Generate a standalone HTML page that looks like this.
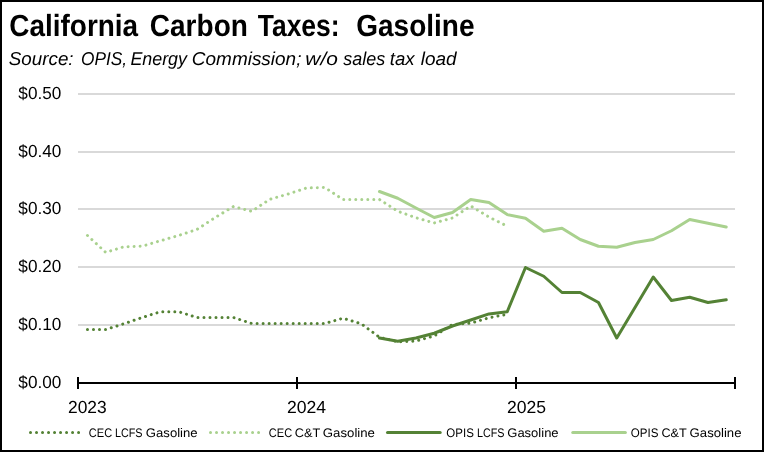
<!DOCTYPE html>
<html lang="en">
<head>
<meta charset="utf-8">
<title>California Carbon Taxes: Gasoline</title>
<style>
html,body{margin:0;padding:0;background:#fff;}
body{width:764px;height:452px;overflow:hidden;}
svg{display:block;}
text{font-family:"Liberation Sans",sans-serif;fill:#000;text-rendering:geometricPrecision;}
.title{font-weight:bold;font-size:30.6px;}
.sub{font-style:italic;font-size:18.6px;}
.ax{font-size:17.4px;}
.lg{font-size:12.4px;}
</style>
</head>
<body>
<svg width="764" height="452" viewBox="0 0 764 452">
<rect x="0" y="0" width="764" height="452" fill="#fff"/>
<!-- border -->
<rect x="0" y="0" width="764" height="2" fill="#000"/>
<rect x="0" y="0" width="2" height="452" fill="#000"/>
<rect x="762" y="0" width="2" height="452" fill="#000"/>
<rect x="0" y="450" width="764" height="2" fill="#000"/>

<!-- title -->
<text id="t0" class="title" x="9.29" y="36.00" textLength="128.83" lengthAdjust="spacingAndGlyphs">California</text>
<text id="t1" class="title" x="149.80" y="36.00" textLength="98.09" lengthAdjust="spacingAndGlyphs">Carbon</text>
<text id="t2" class="title" x="257.77" y="36.00" textLength="81.78" lengthAdjust="spacingAndGlyphs">Taxes:</text>
<text id="t3" class="title" x="356.29" y="36.00" textLength="118.21" lengthAdjust="spacingAndGlyphs">Gasoline</text>
<!-- subtitle -->
<text id="s0" class="sub" x="8.84" y="65.00" textLength="64.73" lengthAdjust="spacingAndGlyphs">Source:</text>
<text id="s1" class="sub" x="81.03" y="65.00" textLength="46.04" lengthAdjust="spacingAndGlyphs">OPIS,</text>
<text id="s2" class="sub" x="130.39" y="65.00" textLength="56.62" lengthAdjust="spacingAndGlyphs">Energy</text>
<text id="s3" class="sub" x="191.85" y="65.00" textLength="109.58" lengthAdjust="spacingAndGlyphs">Commission;</text>
<text id="s4" class="sub" x="305.34" y="65.00" textLength="32.52" lengthAdjust="spacingAndGlyphs">w/o</text>
<text id="s5" class="sub" x="343.30" y="65.00" textLength="41.91" lengthAdjust="spacingAndGlyphs">sales</text>
<text id="s6" class="sub" x="389.73" y="65.00" textLength="24.81" lengthAdjust="spacingAndGlyphs">tax</text>
<text id="s7" class="sub" x="420.82" y="65.00" textLength="35.83" lengthAdjust="spacingAndGlyphs">load</text>
<!-- gridlines -->
<rect x="78" y="93" width="657" height="2" fill="#d9d9d9"/>
<rect x="78" y="151" width="657" height="2" fill="#d9d9d9"/>
<rect x="78" y="208" width="657" height="2" fill="#d9d9d9"/>
<rect x="78" y="266" width="657" height="2" fill="#d9d9d9"/>
<rect x="78" y="324" width="657" height="2" fill="#d9d9d9"/>
<!-- y axis labels -->
<text id="y0" class="ax" x="18.34" y="99.00" textLength="42.97" lengthAdjust="spacingAndGlyphs">&#36;0.50</text>
<text id="y1" class="ax" x="18.34" y="157.00" textLength="42.97" lengthAdjust="spacingAndGlyphs">&#36;0.40</text>
<text id="y2" class="ax" x="18.34" y="214.00" textLength="42.97" lengthAdjust="spacingAndGlyphs">&#36;0.30</text>
<text id="y3" class="ax" x="18.34" y="272.00" textLength="42.97" lengthAdjust="spacingAndGlyphs">&#36;0.20</text>
<text id="y4" class="ax" x="18.34" y="330.00" textLength="42.97" lengthAdjust="spacingAndGlyphs">&#36;0.10</text>
<text id="y5" class="ax" x="18.34" y="388.00" textLength="42.97" lengthAdjust="spacingAndGlyphs">&#36;0.00</text>
<!-- series -->
<path d="M87.47,329.50 L105.72,329.50 L123.97,323.75 L142.22,317.50 L160.47,311.75 L178.72,311.75 L196.97,317.50 L215.22,317.50 L233.47,317.50 L251.72,323.50 L269.98,323.50 L288.23,323.50 L306.48,323.50 L324.73,323.50 L342.98,318.25 L361.23,323.75 L379.48,337.30 L397.73,341.80 L415.98,341.00 L434.23,336.00 L452.48,324.50 L470.73,323.20 L488.98,317.80 L507.23,314.30" fill="none" stroke="#548235" stroke-width="3" stroke-linecap="round" stroke-linejoin="round" stroke-dasharray="0.01 6"/>
<path d="M87.47,235.50 L105.72,252.40 L123.97,246.75 L142.22,246.25 L160.47,240.75 L178.72,235.50 L196.97,229.50 L215.22,217.50 L233.47,206.50 L251.72,211.30 L269.98,199.25 L288.23,194.00 L306.48,188.00 L324.73,187.50 L342.98,199.50 L361.23,199.50 L379.48,199.50 L397.73,211.25 L415.98,217.75 L434.23,223.00 L452.48,218.00 L470.73,206.00 L488.98,217.00 L507.23,226.25" fill="none" stroke="#a9d18e" stroke-width="3" stroke-linecap="round" stroke-linejoin="round" stroke-dasharray="0.01 6"/>
<path d="M379.48,338.00 L397.73,341.30 L415.98,338.00 L434.23,333.25 L452.48,326.00 L470.73,320.00 L488.98,313.90 L507.23,311.70 L525.48,267.50 L543.73,276.25 L561.98,292.50 L580.23,292.50 L598.48,302.50 L616.73,338.00 L634.98,307.50 L653.23,277.00 L671.48,300.50 L689.73,297.25 L707.98,302.50 L726.23,299.75" fill="none" stroke="#548235" stroke-width="3" stroke-linecap="round" stroke-linejoin="round"/>
<path d="M379.48,191.50 L397.73,198.25 L415.98,208.00 L434.23,217.50 L452.48,212.50 L470.73,199.50 L488.98,202.50 L507.23,214.60 L525.48,218.25 L543.73,231.25 L561.98,228.25 L580.23,239.50 L598.48,246.25 L616.73,247.25 L634.98,242.50 L653.23,239.50 L671.48,230.75 L689.73,219.50 L707.98,223.25 L726.23,227.00" fill="none" stroke="#a9d18e" stroke-width="3" stroke-linecap="round" stroke-linejoin="round"/>
<!-- x axis -->
<rect x="77" y="382" width="659" height="2" fill="#000"/>
<rect x="77" y="377" width="2" height="12" fill="#000"/>
<rect x="296" y="377" width="2" height="12" fill="#000"/>
<rect x="515" y="377" width="2" height="12" fill="#000"/>
<rect x="734" y="377" width="2" height="12" fill="#000"/>
<text id="x0" class="ax" x="67.99" y="413.00" textLength="38.71" lengthAdjust="spacingAndGlyphs">2023</text>
<text id="x1" class="ax" x="286.95" y="413.00" textLength="39.17" lengthAdjust="spacingAndGlyphs">2024</text>
<text id="x2" class="ax" x="506.96" y="413.00" textLength="39.14" lengthAdjust="spacingAndGlyphs">2025</text>
<!-- legend -->
<path d="M30.5,432.5 L79,432.5" fill="none" stroke="#548235" stroke-width="3" stroke-linecap="round" stroke-dasharray="0.01 6"/>
<path d="M210.5,432.5 L259,432.5" fill="none" stroke="#a9d18e" stroke-width="3" stroke-linecap="round" stroke-dasharray="0.01 6"/>
<path d="M387.5,432.5 L440.2,432.5" fill="none" stroke="#548235" stroke-width="3" stroke-linecap="round"/>
<path d="M572.75,432.5 L625.4,432.5" fill="none" stroke="#a9d18e" stroke-width="3" stroke-linecap="round"/>
<text id="l0" class="lg" x="88.83" y="437.00" textLength="23.35" lengthAdjust="spacingAndGlyphs">CEC</text>
<text id="l1" class="lg" x="114.95" y="437.00" textLength="27.60" lengthAdjust="spacingAndGlyphs">LCFS</text>
<text id="l2" class="lg" x="145.87" y="437.00" textLength="51.74" lengthAdjust="spacingAndGlyphs">Gasoline</text>
<text id="l3" class="lg" x="268.81" y="437.00" textLength="23.39" lengthAdjust="spacingAndGlyphs">CEC</text>
<text id="l4" class="lg" x="294.71" y="437.00" textLength="25.58" lengthAdjust="spacingAndGlyphs">C&amp;T</text>
<text id="l5" class="lg" x="322.86" y="437.00" textLength="52.07" lengthAdjust="spacingAndGlyphs">Gasoline</text>
<text id="l6" class="lg" x="446.36" y="437.00" textLength="27.48" lengthAdjust="spacingAndGlyphs">OPIS</text>
<text id="l7" class="lg" x="476.99" y="437.00" textLength="27.47" lengthAdjust="spacingAndGlyphs">LCFS</text>
<text id="l8" class="lg" x="507.29" y="437.00" textLength="51.31" lengthAdjust="spacingAndGlyphs">Gasoline</text>
<text id="l9" class="lg" x="630.79" y="437.00" textLength="27.61" lengthAdjust="spacingAndGlyphs">OPIS</text>
<text id="l10" class="lg" x="661.43" y="437.00" textLength="25.39" lengthAdjust="spacingAndGlyphs">C&amp;T</text>
<text id="l11" class="lg" x="689.58" y="437.00" textLength="51.93" lengthAdjust="spacingAndGlyphs">Gasoline</text>
</svg>
</body>
</html>
